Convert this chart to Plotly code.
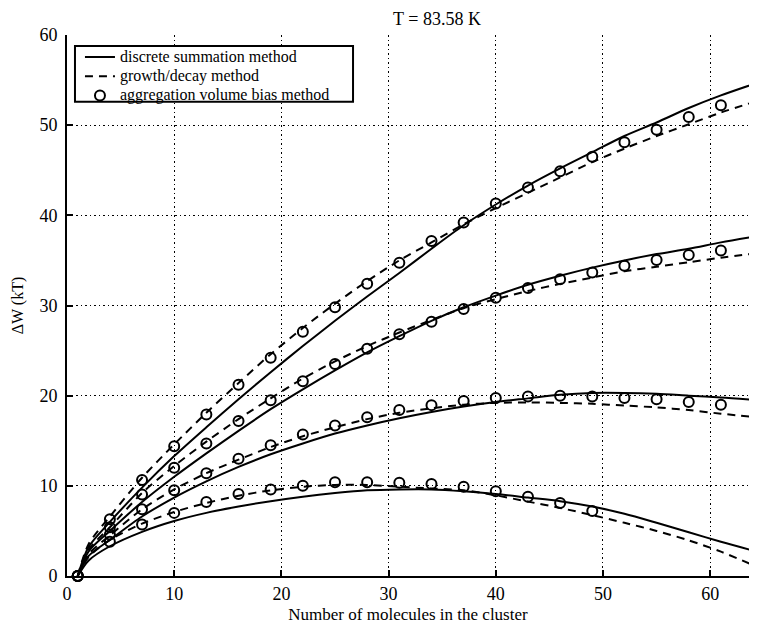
import plotly.graph_objects as go

# x positions
x_line = [1, 2, 4, 7, 10, 13, 16, 19, 22, 25, 28, 31, 34, 37, 40, 43, 46, 49, 52, 55, 58, 61, 64.4]
x_circ = [1, 4, 7, 10, 13, 16, 19, 22, 25, 28, 31, 34, 37, 40, 43, 46, 49, 52, 55, 58, 61, 64]

# discrete summation method (solid)
solid_1 = [0, 3.2, 6.0, 9.8, 13.3, 16.5, 19.6, 22.6, 25.5, 28.3, 31.0, 33.6, 36.3, 38.9, 41.2, 43.3, 45.2, 47.0, 48.8, 50.3, 51.9, 53.3, 54.7]
solid_2 = [0, 2.7, 5.0, 8.2, 11.0, 13.6, 16.1, 18.5, 20.7, 22.8, 24.8, 26.6, 28.3, 29.8, 31.1, 32.3, 33.3, 34.2, 35.0, 35.7, 36.3, 37.0, 37.7]
solid_3 = [0, 2.2, 4.0, 6.6, 8.7, 10.5, 12.1, 13.5, 14.7, 15.8, 16.7, 17.5, 18.2, 18.8, 19.3, 19.7, 20.1, 20.3, 20.3, 20.2, 20.0, 19.8, 19.5]
solid_4 = [0, 1.7, 3.3, 4.9, 6.1, 7.0, 7.7, 8.3, 8.8, 9.2, 9.5, 9.6, 9.6, 9.4, 9.1, 8.7, 8.3, 7.7, 6.9, 5.9, 4.85, 3.8, 2.7]

# growth/decay method (dashed)
dash_1 = [0, 3.5, 6.6, 10.9, 14.6, 18.1, 21.4, 24.6, 27.5, 30.2, 32.7, 35.0, 37.0, 39.0, 40.8, 42.5, 44.2, 45.9, 47.4, 48.8, 50.1, 51.4, 52.7]
dash_2 = [0, 2.9, 5.4, 9.2, 12.2, 14.9, 17.4, 19.7, 21.9, 23.8, 25.5, 27.0, 28.4, 29.7, 30.7, 31.6, 32.4, 33.1, 33.8, 34.3, 34.8, 35.3, 35.8]
dash_3 = [0, 2.4, 4.5, 7.4, 9.6, 11.4, 12.9, 14.3, 15.5, 16.5, 17.4, 18.1, 18.6, 19.0, 19.2, 19.25, 19.2, 19.1, 18.9, 18.7, 18.4, 18.0, 17.6]
dash_4 = [0, 2.1, 4.0, 5.8, 7.1, 8.1, 8.9, 9.5, 9.9, 10.1, 10.1, 9.9, 9.7, 9.5, 8.95, 8.25, 7.55, 6.75, 5.9, 5.0, 3.95, 2.7, 1.0]

# aggregation volume bias method (circles)
circ_1 = [0, 6.3, 10.65, 14.4, 17.9, 21.2, 24.2, 27.1, 29.8, 32.4, 34.75, 37.15, 39.2, 41.3, 43.1, 44.9, 46.5, 48.1, 49.5, 50.9, 52.2, 53.4]
circ_2 = [0, 5.4, 9.05, 12.0, 14.7, 17.2, 19.5, 21.6, 23.5, 25.2, 26.8, 28.2, 29.6, 30.85, 31.95, 32.9, 33.65, 34.4, 35.05, 35.6, 36.1, 36.4]
circ_3 = [0, 4.6, 7.4, 9.5, 11.4, 13.0, 14.5, 15.7, 16.7, 17.6, 18.4, 18.95, 19.4, 19.75, 19.9, 20.0, 19.9, 19.75, 19.6, 19.3, 19.0, 18.6]
circ_4 = [0, 3.8, 5.7, 7.0, 8.2, 9.1, 9.6, 10.0, 10.4, 10.4, 10.35, 10.2, 9.9, 9.4, 8.8, 8.1, 7.2]

x_ticks = [0, 10, 20, 30, 40, 50, 60]
y_ticks = [0, 10, 20, 30, 40, 50, 60]

FONT = "Liberation Serif, Times New Roman, serif"


def legend_name(txt):
    return "<span style='font-size:16px'>" + txt + "</span>"


fig = go.Figure()

for i, s in enumerate([solid_1, solid_2, solid_3, solid_4]):
    fig.add_trace(go.Scatter(x=x_line, y=s, mode="lines", name=legend_name("discrete summation method"),
                             line=dict(color="black", width=2, shape="spline", smoothing=0.8),
                             showlegend=(i == 0), legendrank=1))
for i, s in enumerate([dash_1, dash_2, dash_3, dash_4]):
    fig.add_trace(go.Scatter(x=x_line, y=s, mode="lines", name=legend_name("growth/decay method"),
                             line=dict(color="black", width=2, dash="8px,6px", shape="spline", smoothing=0.8),
                             showlegend=(i == 0), legendrank=2))
for i, s in enumerate([circ_1, circ_2, circ_3, circ_4]):
    fig.add_trace(go.Scatter(x=x_circ[:len(s)], y=s, mode="markers", name=legend_name("aggregation volume bias method"),
                             marker=dict(symbol="circle-open", size=10, color="black", line=dict(width=2, color="black")),
                             cliponaxis=False, showlegend=(i == 0), legendrank=3))

# legend frame
fig.add_shape(type="rect", xref="paper", yref="paper", x0=0.0117, x1=0.4194, y0=0.8768, y1=0.9798,
              line=dict(color="black", width=2), fillcolor="white", layer="above")

fig.update_layout(
    width=741, height=616,
    margin=dict(l=59, r=0, t=27, b=45),
    paper_bgcolor="white", plot_bgcolor="white",
    font=dict(family=FONT, color="black", size=16),
    title=dict(text="T = 83.58 K", x=0.579, xanchor="center", xref="container",
               y=0.982, yanchor="middle", yref="container",
               font=dict(family=FONT, size=18, color="black")),
    legend=dict(x=0.019, y=0.9864, xanchor="left", yanchor="top",
                bgcolor="rgba(0,0,0,0)", borderwidth=0,
                font=dict(family=FONT, size=12.5, color="black"),
                tracegroupgap=0, itemwidth=30),
    xaxis=dict(range=[0, 63.62], tickvals=x_ticks, ticks="inside", ticklen=6, tickwidth=2, tickcolor="black",
               showline=True, linecolor="black", linewidth=2, mirror=False,
               showgrid=True, gridcolor="black", gridwidth=1, griddash="1.5px,3px",
               zeroline=False, tickfont=dict(family=FONT, size=18, color="black"),
               ticklabelstandoff=0,
               title=dict(text="Number of molecules in the cluster", standoff=9,
                          font=dict(family=FONT, size=17, color="black"))),
    yaxis=dict(range=[0, 60], tickvals=y_ticks, ticks="inside", ticklen=6, tickwidth=2, tickcolor="black",
               showline=True, linecolor="black", linewidth=2, mirror=False,
               showgrid=True, gridcolor="black", gridwidth=1, griddash="1.5px,3px",
               zeroline=False, tickfont=dict(family=FONT, size=18, color="black"),
               ticklabelstandoff=4,
               title=dict(text="ΔW (kT)", standoff=12,
                          font=dict(family=FONT, size=16, color="black"))),
)

fig.write_html("out.html")
